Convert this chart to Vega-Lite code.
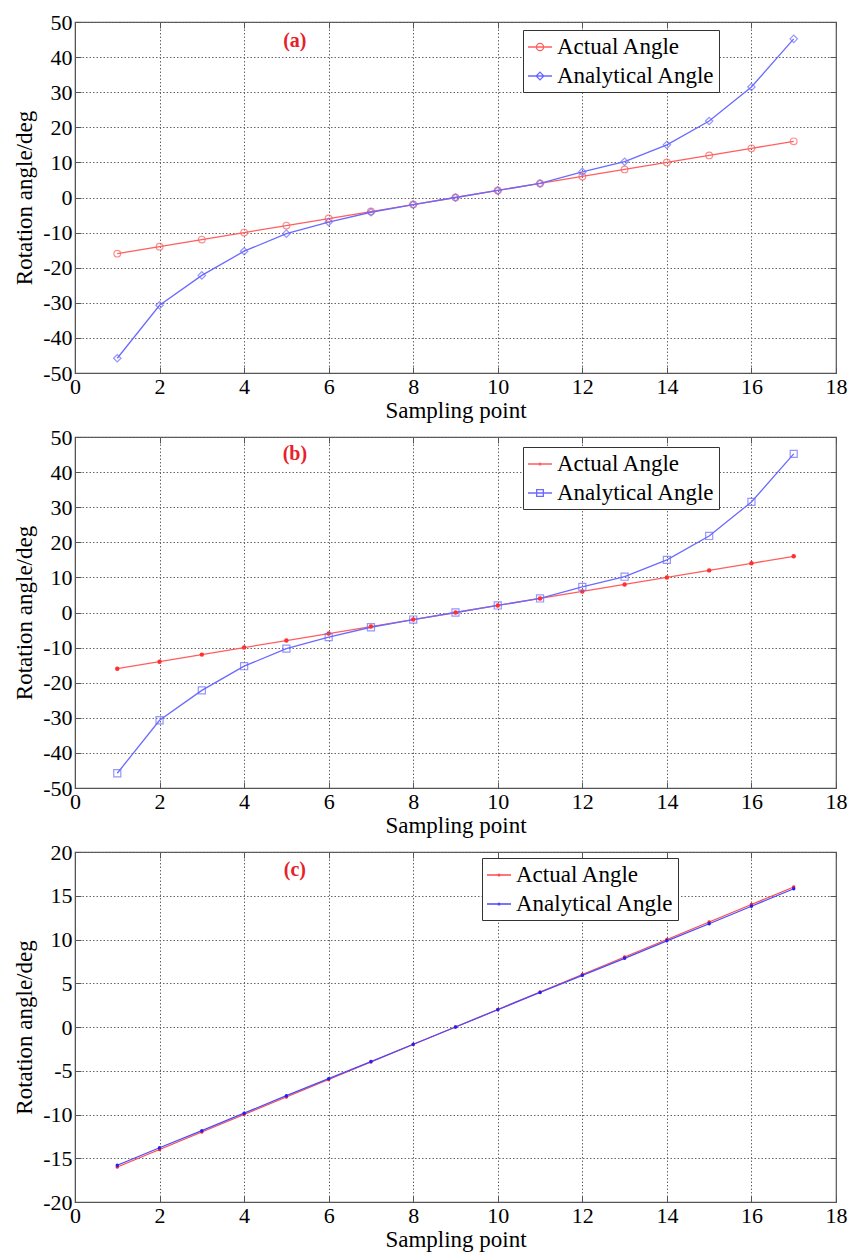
{
  "$schema": "https://vega.github.io/schema/vega-lite/v6.json",
  "background": "white",
  "padding": {"left": 13, "top": 10, "right": 8, "bottom": 2},
  "spacing": 2,
  "config": {
    "font": "Liberation Serif, Times New Roman, Times, serif",
    "view": {"stroke": "#555", "strokeWidth": 1.2},
    "axis": {
      "labelColor": "black", "titleFontWeight": "normal", "titleColor": "black",
      "gridDash": [1.5, 2], "gridColor": "#666", "gridOpacity": 1, "gridWidth": 1,
      "domainColor": "#555", "tickColor": "#555", "tickSize": -6
    },
    "legend": {
      "labelColor": "black",
      "strokeColor": "#333", "fillColor": "white", "padding": 4,
      "symbolSize": 576, "symbolStrokeWidth": 1.3, "labelOffset": 4, "rowPadding": 4, "labelLimit": 300
    }
  },
  "resolve": {"scale": {"color": "independent", "y": "independent"}, "legend": {"color": "independent"}},
  "datasets": {
    "pts": [
      {"panel": "a", "x": 1, "series": "Actual Angle", "y": -16},
      {"panel": "a", "x": 2, "series": "Actual Angle", "y": -14},
      {"panel": "a", "x": 3, "series": "Actual Angle", "y": -12},
      {"panel": "a", "x": 4, "series": "Actual Angle", "y": -10},
      {"panel": "a", "x": 5, "series": "Actual Angle", "y": -8},
      {"panel": "a", "x": 6, "series": "Actual Angle", "y": -6},
      {"panel": "a", "x": 7, "series": "Actual Angle", "y": -4},
      {"panel": "a", "x": 8, "series": "Actual Angle", "y": -2},
      {"panel": "a", "x": 9, "series": "Actual Angle", "y": 0},
      {"panel": "a", "x": 10, "series": "Actual Angle", "y": 2},
      {"panel": "a", "x": 11, "series": "Actual Angle", "y": 4},
      {"panel": "a", "x": 12, "series": "Actual Angle", "y": 6},
      {"panel": "a", "x": 13, "series": "Actual Angle", "y": 8},
      {"panel": "a", "x": 14, "series": "Actual Angle", "y": 10},
      {"panel": "a", "x": 15, "series": "Actual Angle", "y": 12},
      {"panel": "a", "x": 16, "series": "Actual Angle", "y": 14},
      {"panel": "a", "x": 17, "series": "Actual Angle", "y": 16},
      {"panel": "a", "x": 1, "series": "Analytical Angle", "y": -45.8},
      {"panel": "a", "x": 2, "series": "Analytical Angle", "y": -30.7},
      {"panel": "a", "x": 3, "series": "Analytical Angle", "y": -22.2},
      {"panel": "a", "x": 4, "series": "Analytical Angle", "y": -15.3},
      {"panel": "a", "x": 5, "series": "Analytical Angle", "y": -10.3},
      {"panel": "a", "x": 6, "series": "Analytical Angle", "y": -7},
      {"panel": "a", "x": 7, "series": "Analytical Angle", "y": -4.2},
      {"panel": "a", "x": 8, "series": "Analytical Angle", "y": -2},
      {"panel": "a", "x": 9, "series": "Analytical Angle", "y": 0},
      {"panel": "a", "x": 10, "series": "Analytical Angle", "y": 2},
      {"panel": "a", "x": 11, "series": "Analytical Angle", "y": 4},
      {"panel": "a", "x": 12, "series": "Analytical Angle", "y": 7.3},
      {"panel": "a", "x": 13, "series": "Analytical Angle", "y": 10.2},
      {"panel": "a", "x": 14, "series": "Analytical Angle", "y": 15},
      {"panel": "a", "x": 15, "series": "Analytical Angle", "y": 21.8},
      {"panel": "a", "x": 16, "series": "Analytical Angle", "y": 31.5},
      {"panel": "a", "x": 17, "series": "Analytical Angle", "y": 45.2},
      {"panel": "b", "x": 1, "series": "Actual Angle", "y": -16},
      {"panel": "b", "x": 2, "series": "Actual Angle", "y": -14},
      {"panel": "b", "x": 3, "series": "Actual Angle", "y": -12},
      {"panel": "b", "x": 4, "series": "Actual Angle", "y": -10},
      {"panel": "b", "x": 5, "series": "Actual Angle", "y": -8},
      {"panel": "b", "x": 6, "series": "Actual Angle", "y": -6},
      {"panel": "b", "x": 7, "series": "Actual Angle", "y": -4},
      {"panel": "b", "x": 8, "series": "Actual Angle", "y": -2},
      {"panel": "b", "x": 9, "series": "Actual Angle", "y": 0},
      {"panel": "b", "x": 10, "series": "Actual Angle", "y": 2},
      {"panel": "b", "x": 11, "series": "Actual Angle", "y": 4},
      {"panel": "b", "x": 12, "series": "Actual Angle", "y": 6},
      {"panel": "b", "x": 13, "series": "Actual Angle", "y": 8},
      {"panel": "b", "x": 14, "series": "Actual Angle", "y": 10},
      {"panel": "b", "x": 15, "series": "Actual Angle", "y": 12},
      {"panel": "b", "x": 16, "series": "Actual Angle", "y": 14},
      {"panel": "b", "x": 17, "series": "Actual Angle", "y": 16},
      {"panel": "b", "x": 1, "series": "Analytical Angle", "y": -45.8},
      {"panel": "b", "x": 2, "series": "Analytical Angle", "y": -30.7},
      {"panel": "b", "x": 3, "series": "Analytical Angle", "y": -22.2},
      {"panel": "b", "x": 4, "series": "Analytical Angle", "y": -15.3},
      {"panel": "b", "x": 5, "series": "Analytical Angle", "y": -10.3},
      {"panel": "b", "x": 6, "series": "Analytical Angle", "y": -7},
      {"panel": "b", "x": 7, "series": "Analytical Angle", "y": -4.2},
      {"panel": "b", "x": 8, "series": "Analytical Angle", "y": -2},
      {"panel": "b", "x": 9, "series": "Analytical Angle", "y": 0},
      {"panel": "b", "x": 10, "series": "Analytical Angle", "y": 2},
      {"panel": "b", "x": 11, "series": "Analytical Angle", "y": 4},
      {"panel": "b", "x": 12, "series": "Analytical Angle", "y": 7.3},
      {"panel": "b", "x": 13, "series": "Analytical Angle", "y": 10.2},
      {"panel": "b", "x": 14, "series": "Analytical Angle", "y": 15},
      {"panel": "b", "x": 15, "series": "Analytical Angle", "y": 21.8},
      {"panel": "b", "x": 16, "series": "Analytical Angle", "y": 31.5},
      {"panel": "b", "x": 17, "series": "Analytical Angle", "y": 45.2},
      {"panel": "c", "x": 1, "series": "Actual Angle", "y": -16},
      {"panel": "c", "x": 2, "series": "Actual Angle", "y": -14},
      {"panel": "c", "x": 3, "series": "Actual Angle", "y": -12},
      {"panel": "c", "x": 4, "series": "Actual Angle", "y": -10},
      {"panel": "c", "x": 5, "series": "Actual Angle", "y": -8},
      {"panel": "c", "x": 6, "series": "Actual Angle", "y": -6},
      {"panel": "c", "x": 7, "series": "Actual Angle", "y": -4},
      {"panel": "c", "x": 8, "series": "Actual Angle", "y": -2},
      {"panel": "c", "x": 9, "series": "Actual Angle", "y": 0},
      {"panel": "c", "x": 10, "series": "Actual Angle", "y": 2},
      {"panel": "c", "x": 11, "series": "Actual Angle", "y": 4},
      {"panel": "c", "x": 12, "series": "Actual Angle", "y": 6},
      {"panel": "c", "x": 13, "series": "Actual Angle", "y": 8},
      {"panel": "c", "x": 14, "series": "Actual Angle", "y": 10},
      {"panel": "c", "x": 15, "series": "Actual Angle", "y": 12},
      {"panel": "c", "x": 16, "series": "Actual Angle", "y": 14},
      {"panel": "c", "x": 17, "series": "Actual Angle", "y": 16},
      {"panel": "c", "x": 1, "series": "Analytical Angle", "y": -15.8},
      {"panel": "c", "x": 2, "series": "Analytical Angle", "y": -13.8},
      {"panel": "c", "x": 3, "series": "Analytical Angle", "y": -11.85},
      {"panel": "c", "x": 4, "series": "Analytical Angle", "y": -9.85},
      {"panel": "c", "x": 5, "series": "Analytical Angle", "y": -7.85},
      {"panel": "c", "x": 6, "series": "Analytical Angle", "y": -5.9},
      {"panel": "c", "x": 7, "series": "Analytical Angle", "y": -3.95},
      {"panel": "c", "x": 8, "series": "Analytical Angle", "y": -1.97},
      {"panel": "c", "x": 9, "series": "Analytical Angle", "y": 0},
      {"panel": "c", "x": 10, "series": "Analytical Angle", "y": 1.97},
      {"panel": "c", "x": 11, "series": "Analytical Angle", "y": 3.95},
      {"panel": "c", "x": 12, "series": "Analytical Angle", "y": 5.9},
      {"panel": "c", "x": 13, "series": "Analytical Angle", "y": 7.85},
      {"panel": "c", "x": 14, "series": "Analytical Angle", "y": 9.85},
      {"panel": "c", "x": 15, "series": "Analytical Angle", "y": 11.8},
      {"panel": "c", "x": 16, "series": "Analytical Angle", "y": 13.8},
      {"panel": "c", "x": 17, "series": "Analytical Angle", "y": 15.8}
    ],
    "lbl": [
      {"panel": "a", "x": 5.2, "y": 44.6, "text": "(a)"},
      {"panel": "b", "x": 5.2, "y": 45.2, "text": "(b)"},
      {"panel": "c", "x": 5.2, "y": 18, "text": "(c)"}
    ]
  },
  "vconcat": [
    {
      "width": 761, "height": 351,
      "resolve": {"axis": {"x": "independent", "y": "independent"}},
      "layer": [
        {
          "data": {"name": "pts"},
          "transform": [{"filter": "datum.panel === 'a'"}],
          "mark": {"type": "line", "strokeWidth": 1.3},
          "encoding": {
            "x": {"field": "x", "type": "quantitative", "scale": {"domain": [0, 18], "nice": false},
              "axis": {"values": [0,2,4,6,8,10,12,14,16,18], "tickCount": 10, "title": "Sampling point", "labelFont": "Liberation Serif, Times New Roman, serif", "titleFont": "Liberation Serif, Times New Roman, serif", "labelFontSize": 22, "titleFontSize": 23, "labelOverlap": false, "labelFlush": false, "labelBound": false, "labelPadding": 9, "titlePadding": 2}},
            "y": {"field": "y", "type": "quantitative", "scale": {"domain": [-50, 50], "nice": false},
              "axis": {"values": [-50,-40,-30,-20,-10,0,10,20,30,40,50], "tickCount": 11, "labelExpr": "replace(datum.label, '−', '-')", "title": "Rotation angle/deg", "labelFont": "Liberation Serif, Times New Roman, serif", "titleFont": "Liberation Serif, Times New Roman, serif", "labelFontSize": 22, "titleFontSize": 23, "labelOverlap": false, "labelFlush": false, "labelBound": false, "labelPadding": 9, "titlePadding": 6}},
            "color": {"field": "series", "type": "nominal",
              "scale": {"domain": ["Actual Angle", "Analytical Angle"], "range": ["#ff5e5e", "#6a6aff"]},
              "legend": {"orient": "none", "legendX": 448, "legendY": 8, "title": null, "labelFont": "Liberation Serif, Times New Roman, serif", "labelFontSize": 23,
                "encode": {"symbols": {"update": {"shape": {"signal": "datum.value === 'Actual Angle' ? 'M-1,0H1M-0.3,0A0.3,0.3 0 1,1 0.3,0A0.3,0.3 0 1,1 -0.3,0' : 'M-1,0H1M-0.32,0L0,-0.32L0.32,0L0,0.32Z'"}}}}}}
          }
        },
        {
          "data": {"name": "pts"},
          "transform": [{"filter": "datum.panel === 'a' && datum.series === 'Actual Angle'"}],
          "mark": {"type": "point", "shape": "circle", "filled": false, "size": 45, "color": "#ff5e5e", "strokeWidth": 1.2},
          "encoding": {"x": {"field": "x", "type": "quantitative", "axis": null}, "y": {"field": "y", "type": "quantitative", "axis": null}}
        },
        {
          "data": {"name": "pts"},
          "transform": [{"filter": "datum.panel === 'a' && datum.series === 'Analytical Angle'"}],
          "mark": {"type": "point", "shape": "diamond", "filled": false, "size": 55, "color": "#6a6aff", "strokeWidth": 1.2},
          "encoding": {"x": {"field": "x", "type": "quantitative", "axis": null}, "y": {"field": "y", "type": "quantitative", "axis": null}}
        },
        {
          "data": {"name": "lbl"},
          "transform": [{"filter": "datum.panel === 'a'"}],
          "mark": {"type": "text", "font": "Liberation Serif, Times New Roman, serif", "fontSize": 20, "fontWeight": "bold", "color": "#e8202a"},
          "encoding": {
            "x": {"field": "x", "type": "quantitative", "axis": {"orient": "top", "labels": false, "title": null, "grid": false, "domain": false, "values": [0,2,4,6,8,10,12,14,16,18], "tickCount": 10, "tickSize": -6}},
            "y": {"field": "y", "type": "quantitative", "axis": {"orient": "right", "labels": false, "title": null, "grid": false, "domain": false, "values": [-50,-40,-30,-20,-10,0,10,20,30,40,50], "tickCount": 11, "tickSize": -6}},
            "text": {"field": "text"}
          }
        }
      ]
    },
    {
      "width": 761, "height": 351,
      "resolve": {"axis": {"x": "independent", "y": "independent"}},
      "layer": [
        {
          "data": {"name": "pts"},
          "transform": [{"filter": "datum.panel === 'b'"}],
          "mark": {"type": "line", "strokeWidth": 1.3},
          "encoding": {
            "x": {"field": "x", "type": "quantitative", "scale": {"domain": [0, 18], "nice": false},
              "axis": {"values": [0,2,4,6,8,10,12,14,16,18], "tickCount": 10, "title": "Sampling point", "labelFont": "Liberation Serif, Times New Roman, serif", "titleFont": "Liberation Serif, Times New Roman, serif", "labelFontSize": 22, "titleFontSize": 23, "labelOverlap": false, "labelFlush": false, "labelBound": false, "labelPadding": 9, "titlePadding": 2}},
            "y": {"field": "y", "type": "quantitative", "scale": {"domain": [-50, 50], "nice": false},
              "axis": {"values": [-50,-40,-30,-20,-10,0,10,20,30,40,50], "tickCount": 11, "labelExpr": "replace(datum.label, '−', '-')", "title": "Rotation angle/deg", "labelFont": "Liberation Serif, Times New Roman, serif", "titleFont": "Liberation Serif, Times New Roman, serif", "labelFontSize": 22, "titleFontSize": 23, "labelOverlap": false, "labelFlush": false, "labelBound": false, "labelPadding": 9, "titlePadding": 6}},
            "color": {"field": "series", "type": "nominal",
              "scale": {"domain": ["Actual Angle", "Analytical Angle"], "range": ["#ff5e5e", "#6a6aff"]},
              "legend": {"orient": "none", "legendX": 448, "legendY": 10, "title": null, "labelFont": "Liberation Serif, Times New Roman, serif", "labelFontSize": 23,
                "encode": {"symbols": {"update": {"shape": {"signal": "datum.value === 'Actual Angle' ? 'M-1,0H1M-0.08,0A0.08,0.08 0 1,1 0.08,0A0.08,0.08 0 1,1 -0.08,0' : 'M-1,0H1M-0.28,-0.28H0.28V0.28H-0.28Z'"}}}}}}
          }
        },
        {
          "data": {"name": "pts"},
          "transform": [{"filter": "datum.panel === 'b' && datum.series === 'Actual Angle'"}],
          "mark": {"type": "point", "shape": "circle", "filled": true, "size": 20, "color": "#ff3030", "opacity": 1},
          "encoding": {"x": {"field": "x", "type": "quantitative", "axis": null}, "y": {"field": "y", "type": "quantitative", "axis": null}}
        },
        {
          "data": {"name": "pts"},
          "transform": [{"filter": "datum.panel === 'b' && datum.series === 'Analytical Angle'"}],
          "mark": {"type": "point", "shape": "square", "filled": false, "size": 50, "color": "#6a6aff", "strokeWidth": 1.2},
          "encoding": {"x": {"field": "x", "type": "quantitative", "axis": null}, "y": {"field": "y", "type": "quantitative", "axis": null}}
        },
        {
          "data": {"name": "lbl"},
          "transform": [{"filter": "datum.panel === 'b'"}],
          "mark": {"type": "text", "font": "Liberation Serif, Times New Roman, serif", "fontSize": 20, "fontWeight": "bold", "color": "#e8202a"},
          "encoding": {
            "x": {"field": "x", "type": "quantitative", "axis": {"orient": "top", "labels": false, "title": null, "grid": false, "domain": false, "values": [0,2,4,6,8,10,12,14,16,18], "tickCount": 10, "tickSize": -6}},
            "y": {"field": "y", "type": "quantitative", "axis": {"orient": "right", "labels": false, "title": null, "grid": false, "domain": false, "values": [-50,-40,-30,-20,-10,0,10,20,30,40,50], "tickCount": 11, "tickSize": -6}},
            "text": {"field": "text"}
          }
        }
      ]
    },
    {
      "width": 761, "height": 350,
      "resolve": {"axis": {"x": "independent", "y": "independent"}},
      "layer": [
        {
          "data": {"name": "pts"},
          "transform": [{"filter": "datum.panel === 'c'"}],
          "mark": {"type": "line", "strokeWidth": 1.3},
          "encoding": {
            "x": {"field": "x", "type": "quantitative", "scale": {"domain": [0, 18], "nice": false},
              "axis": {"values": [0,2,4,6,8,10,12,14,16,18], "tickCount": 10, "title": "Sampling point", "labelFont": "Liberation Serif, Times New Roman, serif", "titleFont": "Liberation Serif, Times New Roman, serif", "labelFontSize": 22, "titleFontSize": 23, "labelOverlap": false, "labelFlush": false, "labelBound": false, "labelPadding": 9, "titlePadding": 2}},
            "y": {"field": "y", "type": "quantitative", "scale": {"domain": [-20, 20], "nice": false},
              "axis": {"values": [-20,-15,-10,-5,0,5,10,15,20], "tickCount": 9, "labelExpr": "replace(datum.label, '−', '-')", "title": "Rotation angle/deg", "labelFont": "Liberation Serif, Times New Roman, serif", "titleFont": "Liberation Serif, Times New Roman, serif", "labelFontSize": 22, "titleFontSize": 23, "labelOverlap": false, "labelFlush": false, "labelBound": false, "labelPadding": 9, "titlePadding": 6}},
            "color": {"field": "series", "type": "nominal",
              "scale": {"domain": ["Actual Angle", "Analytical Angle"], "range": ["#ff4a4a", "#4a4aff"]},
              "legend": {"orient": "none", "legendX": 407, "legendY": 6, "title": null, "labelFont": "Liberation Serif, Times New Roman, serif", "labelFontSize": 23,
                "encode": {"symbols": {"update": {"shape": {"value": "M-1,0H1M-0.08,0A0.08,0.08 0 1,1 0.08,0A0.08,0.08 0 1,1 -0.08,0"}}}}}}
          }
        },
        {
          "data": {"name": "pts"},
          "transform": [{"filter": "datum.panel === 'c' && datum.series === 'Actual Angle'"}],
          "mark": {"type": "point", "shape": "circle", "filled": true, "size": 12, "color": "#ff2020", "opacity": 1},
          "encoding": {"x": {"field": "x", "type": "quantitative", "axis": null}, "y": {"field": "y", "type": "quantitative", "axis": null}}
        },
        {
          "data": {"name": "pts"},
          "transform": [{"filter": "datum.panel === 'c' && datum.series === 'Analytical Angle'"}],
          "mark": {"type": "point", "shape": "circle", "filled": true, "size": 12, "color": "#2020ff", "opacity": 1},
          "encoding": {"x": {"field": "x", "type": "quantitative", "axis": null}, "y": {"field": "y", "type": "quantitative", "axis": null}}
        },
        {
          "data": {"name": "lbl"},
          "transform": [{"filter": "datum.panel === 'c'"}],
          "mark": {"type": "text", "font": "Liberation Serif, Times New Roman, serif", "fontSize": 20, "fontWeight": "bold", "color": "#e8202a"},
          "encoding": {
            "x": {"field": "x", "type": "quantitative", "axis": {"orient": "top", "labels": false, "title": null, "grid": false, "domain": false, "values": [0,2,4,6,8,10,12,14,16,18], "tickCount": 10, "tickSize": -6}},
            "y": {"field": "y", "type": "quantitative", "axis": {"orient": "right", "labels": false, "title": null, "grid": false, "domain": false, "values": [-20,-15,-10,-5,0,5,10,15,20], "tickCount": 9, "tickSize": -6}},
            "text": {"field": "text"}
          }
        }
      ]
    }
  ]
}
